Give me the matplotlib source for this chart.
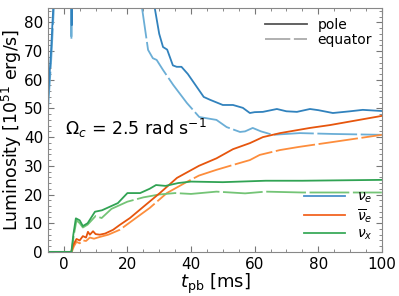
import matplotlib.pyplot as plt
from matplotlib.lines import Line2D
from matplotlib.ticker import MultipleLocator

# electron neutrinos
t_nue_pole = [-5, -4, -3, 0, 2.0, 2.5, 3.0, 10, 20, 28.6, 30, 31.2, 32.5, 34.3, 35.5, 37, 39,
              42.5, 44, 46, 50, 53.2, 56.3, 58.5, 60, 62.6, 67, 70, 73.3, 77.4, 80, 84.6, 90,
              94, 100]
L_nue_pole = [53, 70, 92, 150, 150, 79, 150, 150, 150, 85, 76, 71.4, 70.5, 65, 64.5, 64.5, 62,
              56.4, 54, 53, 51.2, 51.2, 50.2, 48.4, 48.7, 48.8, 49.8, 49.0, 48.8, 49.8, 49.4,
              48.4, 49.0, 49.5, 49.1]
t_nue_eq = [-5, -4, -2.8, 0, 2.0, 2.4, 2.8, 10, 20, 24.6, 26.5, 28, 29.2, 31.2, 34.4, 38.7,
            42.6, 48, 51.2, 55.4, 57, 59.4, 62, 65.7, 74.2, 84.6, 100]
L_nue_eq = [49, 66, 92, 150, 150, 74, 150, 150, 150, 85, 70.4, 67.5, 66.9, 63.4, 58.2, 51.9,
            47, 46, 43.5, 41.8, 42.0, 43.2, 42.0, 40.8, 41.4, 41.1, 40.8]

# electron antineutrinos
t_anue_pole = [-5, 2.3, 3.0, 4.0, 5.0, 6.0, 7.0, 7.6, 8.2, 9.2, 10.0, 11.3, 13, 15.5, 17.6, 20.8,
               25, 30.2, 35.6, 42.5, 48, 53.2, 58.5, 62.6, 68, 77.4, 83.7, 100]
L_anue_pole = [0, 0, 2.5, 4.5, 4.0, 5.5, 5.0, 7.0, 6.0, 7.2, 6.2, 6.0, 6.4, 7.7, 9.4, 11.8,
               15.7, 20.5, 25.8, 30.0, 32.6, 35.8, 37.9, 40.0, 41.4, 43.2, 44.2, 47.4]
t_anue_eq = [-5, 2.5, 3.2, 4.0, 5.0, 6.0, 7.0, 8.2, 9.5, 11.3, 14, 17.6, 21.8, 27, 32.4, 38.7,
             42.5, 48, 53.2, 58.5, 61.6, 68, 74, 84.6, 100]
L_anue_eq = [0, 0, 2.0, 3.5, 3.0, 4.0, 3.8, 5.0, 4.6, 5.2, 6.0, 7.7, 11.1, 15.3, 20.5, 24.4,
             26.6, 28.6, 30.3, 32.0, 33.8, 35.5, 36.6, 38.3, 40.8]

# heavy-lepton neutrinos
t_nux_pole = [-5, 2.4, 3.0, 3.8, 5.0, 6.0, 7.5, 9.8, 12, 14, 17, 20, 24, 27, 29, 32, 36, 40,
              50, 63.5, 75, 100]
L_nux_pole = [0, 0, 6, 11.7, 11.0, 9.0, 10.0, 14.0, 14.5, 15.5, 17.0, 20.5, 20.5, 22.0, 23.3,
              23.0, 24.0, 24.5, 24.3, 24.8, 24.8, 25.1]
t_nux_eq = [-5, 2.5, 3.1, 4.0, 5.0, 6.0, 7.5, 10, 11.9, 15, 20, 25, 30, 35, 40, 48, 57, 63.5,
            75, 100]
L_nux_eq = [0, 0, 5.5, 11.0, 10.0, 8.5, 9.5, 12.5, 11.8, 15.0, 17.5, 19.0, 20.0, 20.5, 20.2,
            21.0, 20.4, 21.0, 20.7, 20.7]

pole_colors = ['#3182bd', '#e6550d', '#31a354']
eq_colors = ['#6baed6', '#fd8d3c', '#74c476']
flavours = [r'$\nu_e$', r'$\overline{\nu}_e$', r'$\nu_x$']

fig = plt.figure(figsize=(3.99, 2.96), dpi=100)
ax = fig.add_axes([0.12, 0.149, 0.837, 0.824])

pole = [(t_nue_pole, L_nue_pole), (t_anue_pole, L_anue_pole), (t_nux_pole, L_nux_pole)]
equator = [(t_nue_eq, L_nue_eq), (t_anue_eq, L_anue_eq), (t_nux_eq, L_nux_eq)]

for (t, L), c in zip(equator, eq_colors):
    ax.plot(t, L, color=c, lw=1.3, dashes=(22, 2))
for (t, L), c in zip(pole, pole_colors):
    ax.plot(t, L, color=c, lw=1.3)

ax.set_xlim(-5, 100)
ax.set_ylim(0, 85)
ax.xaxis.set_major_locator(MultipleLocator(20))
ax.xaxis.set_minor_locator(MultipleLocator(5))
ax.yaxis.set_major_locator(MultipleLocator(10))
ax.yaxis.set_minor_locator(MultipleLocator(2))
ax.tick_params(which='both', direction='in', top=True, right=True, color='#777777', labelsize=11)
ax.tick_params(which='major', length=4)
ax.tick_params(which='minor', length=2)
for s in ax.spines.values():
    s.set_color('#888888')

ax.set_xlabel(r'$t_{\rm pb}$ [ms]', fontsize=13, labelpad=0)
ax.set_ylabel(r'Luminosity [$10^{51}$ erg/s]', fontsize=12.5, labelpad=0)

ax.text(0.05, 0.48, r'$\Omega_c$ = 2.5 rad s$^{-1}$', transform=ax.transAxes, fontsize=12.5)

h1 = [Line2D([], [], color='#555555', lw=1.3),
      Line2D([], [], color='#aaaaaa', lw=1.3, dashes=(14, 2))]
leg1 = ax.legend(h1, ['pole', 'equator'], loc='upper right', frameon=False, fontsize=10,
                 handlelength=3, labelspacing=0.1, borderaxespad=0.3)
ax.add_artist(leg1)
h2 = [Line2D([], [], color=c, lw=1.3) for c in ['#4a90cc', '#f26522', '#3aaa5a']]
ax.legend(h2, flavours, loc='lower right', frameon=False, fontsize=10,
          handlelength=3, labelspacing=0.15, borderaxespad=0.3)

fig.savefig('out.png', dpi=100)
